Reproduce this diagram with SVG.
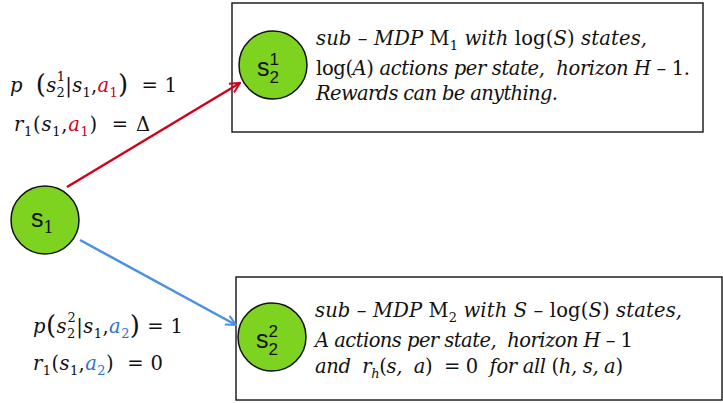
<svg xmlns="http://www.w3.org/2000/svg" width="723" height="403" viewBox="0 0 723 403">
<defs>
<style>
.box{fill:#fff;stroke:#222;stroke-width:1.5}
.node{fill:#7ed321;stroke:#111;stroke-width:1.5}
.m{font-family:"DejaVu Serif",serif;font-size:19.5px;fill:#111}
.t{font-family:"DejaVu Serif",serif;font-size:19.5px;fill:#111}
.i{font-style:italic}
.sm{font-size:13px}
.nl{font-family:"Liberation Sans",sans-serif;font-size:25px;fill:#111}
.ns{font-family:"Liberation Sans",sans-serif;font-size:17px;fill:#111}
.red{fill:#d0021b}
.blue{fill:#2f6fd0}
</style>
<marker id="ar" viewBox="0 0 12 12" refX="11" refY="6" markerWidth="12" markerHeight="12" markerUnits="userSpaceOnUse" orient="auto">
<path d="M1,1 L11,6 L1,11" fill="none" stroke="#d0021b" stroke-width="2"/>
</marker>
<marker id="ab" viewBox="0 0 12 12" refX="11" refY="6" markerWidth="12" markerHeight="12" markerUnits="userSpaceOnUse" orient="auto">
<path d="M1,1 L11,6 L1,11" fill="none" stroke="#4a90e2" stroke-width="2"/>
</marker>
</defs>
<rect width="723" height="403" fill="#fff"/>

<g id="box1">
<rect class="box" x="232" y="3" width="471" height="129"/>
<text class="t" x="316" y="45" textLength="331" lengthAdjust="spacing"><tspan class="i">sub</tspan> – <tspan class="i">MDP</tspan> M<tspan class="sm" y="50">1</tspan><tspan y="45" class="i"> with</tspan> log(<tspan class="i">S</tspan>) <tspan class="i">states,</tspan></text>
<text class="t" x="316" y="75" textLength="374" lengthAdjust="spacing" xml:space="preserve">log(<tspan class="i">A</tspan>) <tspan class="i">actions per state,  horizon H</tspan> – 1.</text>
<text class="t i" x="316" y="100" textLength="242" lengthAdjust="spacing">Rewards can be anything.</text>
</g>

<g id="box2">
<rect class="box" x="236" y="277" width="486" height="123"/>
<text class="t" x="315" y="317" textLength="367" lengthAdjust="spacing"><tspan class="i">sub</tspan> – <tspan class="i">MDP</tspan> M<tspan class="sm" y="322">2</tspan><tspan y="317" class="i"> with S</tspan> – log(<tspan class="i">S</tspan>) <tspan class="i">states,</tspan></text>
<text class="t" x="315" y="347" textLength="318" lengthAdjust="spacing" xml:space="preserve"><tspan class="i">A actions per state,  horizon H</tspan> – 1</text>
<text class="t" x="315" y="373" textLength="308" lengthAdjust="spacing" xml:space="preserve"><tspan class="i">and  r</tspan><tspan class="sm i" y="378">h</tspan><tspan y="373">(</tspan><tspan class="i">s,  a</tspan>)  = 0  <tspan class="i">for all</tspan> (<tspan class="i">h, s, a</tspan>)</text>
</g>

<g id="connectors">
<line x1="67" y1="187" x2="240" y2="83" stroke="#d0021b" stroke-width="2.5" marker-end="url(#ar)"/>
<line x1="80" y1="240" x2="236" y2="325" stroke="#4a90e2" stroke-width="2.5" marker-end="url(#ab)"/>
</g>

<g id="label-a1">
<text class="m" x="10" y="92" textLength="167" lengthAdjust="spacing" xml:space="preserve"><tspan class="i">p</tspan>  <tspan font-size="26" y="93">(</tspan><tspan class="i" y="92">s</tspan><tspan class="sm" y="97">2</tspan><tspan class="sm" dx="-8.3" y="81">1</tspan><tspan y="92">|</tspan><tspan class="i">s</tspan><tspan class="sm" y="97">1</tspan><tspan y="92">,</tspan><tspan class="i red">a</tspan><tspan class="sm red" y="97">1</tspan><tspan font-size="26" y="93">)</tspan><tspan y="92">  = 1</tspan></text>
<text class="m" x="14" y="131" textLength="136" lengthAdjust="spacing" xml:space="preserve"><tspan class="i">r</tspan><tspan class="sm" y="136">1</tspan><tspan y="131">(</tspan><tspan class="i">s</tspan><tspan class="sm" y="136">1</tspan><tspan y="131">,</tspan><tspan class="i red">a</tspan><tspan class="sm red" y="136">1</tspan><tspan y="131">)  = Δ</tspan></text>
</g>

<g id="label-a2">
<text class="m" x="33" y="333" textLength="150" lengthAdjust="spacing" xml:space="preserve"><tspan class="i">p</tspan><tspan font-size="26" y="334">(</tspan><tspan class="i" y="333">s</tspan><tspan class="sm" y="338">2</tspan><tspan class="sm" dx="-8.3" y="322">2</tspan><tspan y="333">|</tspan><tspan class="i">s</tspan><tspan class="sm" y="338">1</tspan><tspan y="333">,</tspan><tspan class="i blue">a</tspan><tspan class="sm blue" y="338">2</tspan><tspan font-size="26" y="334">)</tspan><tspan y="333"> = 1</tspan></text>
<text class="m" x="33" y="370" textLength="130" lengthAdjust="spacing" xml:space="preserve"><tspan class="i">r</tspan><tspan class="sm" y="375">1</tspan><tspan y="370">(</tspan><tspan class="i">s</tspan><tspan class="sm" y="375">1</tspan><tspan y="370">,</tspan><tspan class="i blue">a</tspan><tspan class="sm blue" y="375">2</tspan><tspan y="370">)  = 0</tspan></text>
</g>

<g id="node-s1">
<circle class="node" cx="45" cy="220" r="34"/>
<text class="nl" x="31" y="227">s<tspan font-family="DejaVu Serif, serif" font-size="16" y="233">1</tspan></text>
</g>

<g id="node-s21">
<circle class="node" cx="273" cy="65" r="34"/>
<text class="nl" x="257" y="76">s<tspan class="ns" y="83">2</tspan><tspan class="ns" dx="-9.5" y="65">1</tspan></text>
</g>

<g id="node-s22">
<circle class="node" cx="272" cy="337" r="34"/>
<text class="nl" x="256" y="348">s<tspan class="ns" y="355">2</tspan><tspan class="ns" dx="-9.5" y="337">2</tspan></text>
</g>
</svg>
